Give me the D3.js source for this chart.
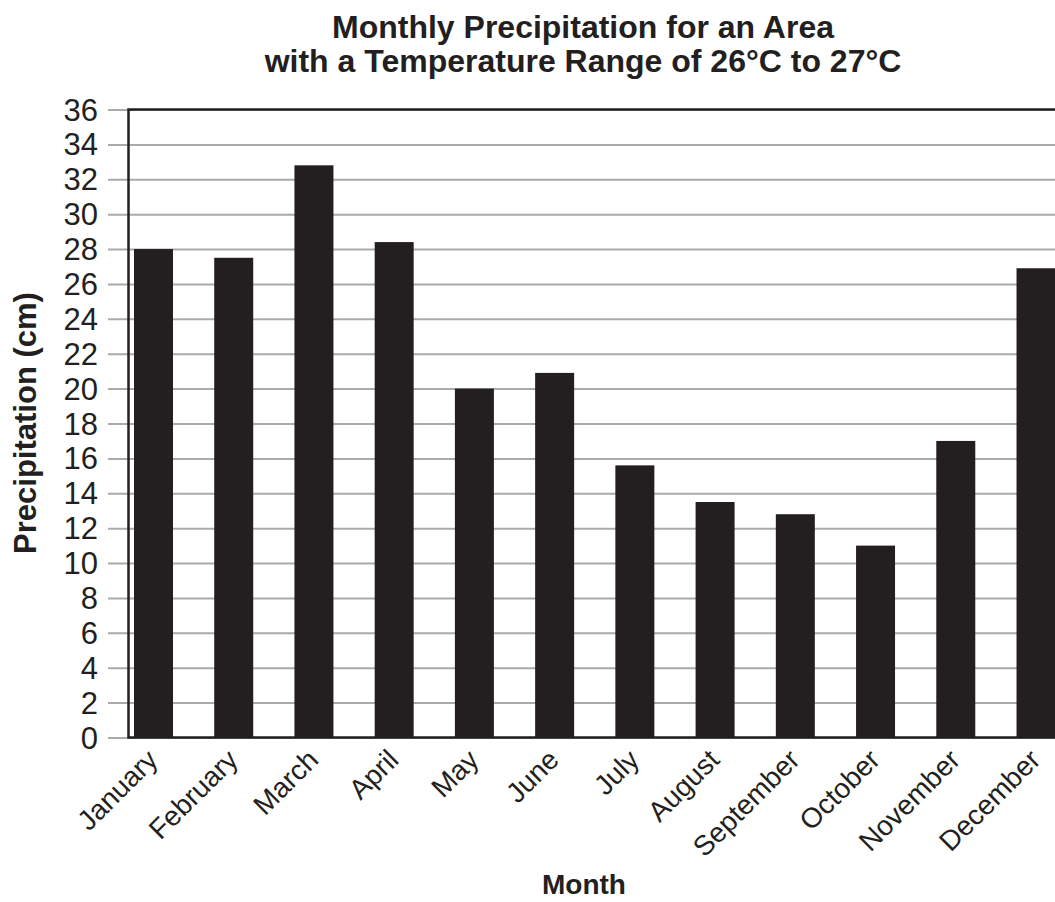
<!DOCTYPE html>
<html>
<head>
<meta charset="utf-8">
<script src="https://cdn.jsdelivr.net/npm/d3@7"></script>
<style>
  body { margin: 0; background: #fff; }
  svg { display: block; font-family: "Liberation Sans", Arial, sans-serif; }
  .grid line { stroke: #aaa; stroke-width: 2; }
  .grid path { display: none; }
</style>
</head>
<body>
<div id="chart"></div>
<script>
// data
const months = ["January", "February", "March", "April", "May", "June",
  "July", "August", "September", "October", "November", "December"];
const precip = [28, 27.5, 32.8, 28.4, 20, 20.9, 15.6, 13.5, 12.8, 11, 17, 26.9];
const yTicks = d3.range(0, 37, 2);

const W = 1055, H = 902;
const axisX = 128.5, plotTop = 109.5, plotBottom = 737.5;

const svg = d3.select("#chart").append("svg")
  .attr("width", W)
  .attr("height", H);

const x = d3.scaleBand()
  .domain(months)
  .range([134, 1055.5])
  .paddingInner(0.514)
  .paddingOuter(0)
  .align(0);

const y = d3.scaleLinear()
  .domain([0, 36])
  .range([plotBottom, plotTop]);

// gridlines
svg.append("g")
  .attr("class", "grid")
  .attr("transform", "translate(108,0)")
  .call(d3.axisRight(y).tickValues(yTicks).tickSize(W - 108).tickFormat(""));

// tick labels
svg.append("g")
  .selectAll("text")
  .data(yTicks)
  .enter()
  .append("text")
  .attr("x", 98)
  .attr("y", d => y(d) + 11)
  .attr("text-anchor", "end")
  .attr("font-size", 31)
  .attr("fill", "#231f20")
  .text(d => d);

// bars
svg.append("g")
  .selectAll("rect")
  .data(months)
  .enter()
  .append("rect")
  .attr("x", d => x(d))
  .attr("y", (d, i) => y(precip[i]))
  .attr("width", x.bandwidth())
  .attr("height", (d, i) => y(0) - y(precip[i]))
  .attr("fill", "#231f20");

// frame: top, left, bottom
svg.append("path")
  .attr("d", `M${W},${plotTop}H${axisX}V${plotBottom}H${W}`)
  .attr("fill", "none")
  .attr("stroke", "#231f20")
  .attr("stroke-width", 2.5);

// month labels
svg.append("g")
  .selectAll("text")
  .data(months)
  .enter()
  .append("text")
  .attr("transform", d => `translate(${x(d) + x.bandwidth() / 2 + 6},${plotBottom + 24}) rotate(-45)`)
  .attr("text-anchor", "end")
  .attr("font-size", 28)
  .attr("fill", "#231f20")
  .text(d => d);

// titles
svg.append("text")
  .attr("x", 583)
  .attr("y", 38)
  .attr("text-anchor", "middle")
  .attr("font-size", 32)
  .attr("font-weight", "bold")
  .attr("fill", "#231f20")
  .text("Monthly Precipitation for an Area");

svg.append("text")
  .attr("x", 583)
  .attr("y", 72)
  .attr("text-anchor", "middle")
  .attr("font-size", 32)
  .attr("font-weight", "bold")
  .attr("fill", "#231f20")
  .text("with a Temperature Range of 26°C to 27°C");

svg.append("text")
  .attr("transform", "translate(36,423) rotate(-90)")
  .attr("text-anchor", "middle")
  .attr("font-size", 31)
  .attr("font-weight", "bold")
  .attr("fill", "#231f20")
  .text("Precipitation (cm)");

svg.append("text")
  .attr("x", 584)
  .attr("y", 894)
  .attr("text-anchor", "middle")
  .attr("font-size", 28)
  .attr("font-weight", "bold")
  .attr("fill", "#231f20")
  .text("Month");
</script>
</body>
</html>
